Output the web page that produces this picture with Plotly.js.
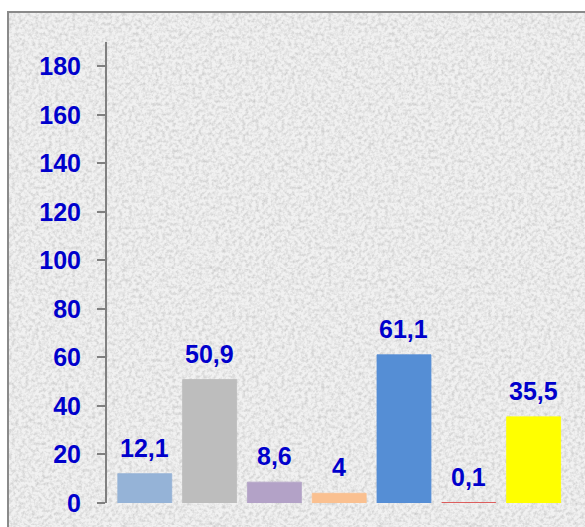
<!DOCTYPE html>
<html>
<head>
<meta charset="utf-8">
<script src="https://cdn.plot.ly/plotly-3.0.1.min.js"></script>
<style>
  html, body { margin: 0; padding: 0; background: #ffffff; }
  #wrap { position: relative; width: 585px; height: 527px; overflow: hidden; background: #ffffff; }
  #frame { position: absolute; left: 7px; top: 11px; width: 600px; height: 600px; border: 2px solid #8a8a8a; background-color: #e8e8e8; }
  #chart { position: absolute; left: 0; top: 0; width: 585px; height: 527px; }
</style>
</head>
<body>
<div id="wrap">
  <div id="frame"></div>
  <div id="chart"></div>
</div>
<script>
// Data
const categories = ['A', 'B', 'C', 'D', 'E', 'F', 'G'];
const values = [12.1, 50.9, 8.6, 4, 61.1, 0.1, 35.5];
const valueLabels = ['12,1', '50,9', '8,6', '4', '61,1', '0,1', '35,5'];
const barColors = ['#95B3D7', '#BDBDBD', '#B3A2C7', '#FAC090', '#558ED5', '#D9403F', '#FFFF00'];
const yTickVals = [0, 20, 40, 60, 80, 100, 120, 140, 160, 180];

// granite-like texture (style only)
const svg = "<svg xmlns='http://www.w3.org/2000/svg' width='256' height='256'>" +
  "<filter id='n'><feTurbulence type='fractalNoise' baseFrequency='0.3' numOctaves='3' stitchTiles='stitch'/>" +
  "<feColorMatrix type='matrix' values='0 0 0 0 0.55  0 0 0 0 0.55  0 0 0 0 0.55  1.6 0 0 0 -0.62'/></filter>" +
  "<rect width='100%' height='100%' fill='#f1f1f1'/>" +
  "<rect width='100%' height='100%' filter='url(#n)'/></svg>";
document.getElementById('frame').style.backgroundImage = 'url("data:image/svg+xml,' + encodeURIComponent(svg) + '")';

const blue = '#0000CC';
const font = 'Liberation Sans, Arial, sans-serif';

const trace = {
  type: 'bar',
  x: categories,
  y: values,
  marker: { color: barColors, line: { color: barColors, width: 0.8 } },
  hoverinfo: 'none'
};

const annotations = categories.map((c, i) => ({
  x: c, y: values[i], xref: 'x', yref: 'y',
  text: valueLabels[i],
  showarrow: false,
  yanchor: 'bottom',
  yshift: 10,
  font: { family: font, size: 25, color: blue, weight: 'bold' }
}));

const layout = {
  width: 585, height: 527,
  margin: { l: 107, r: 19, t: 42, b: 24 },
  paper_bgcolor: 'rgba(0,0,0,0)',
  plot_bgcolor: 'rgba(0,0,0,0)',
  showlegend: false,
  bargap: 0.167,
  xaxis: {
    type: 'category',
    range: [-0.583, 6.5],
    showticklabels: false, showline: false, ticks: '', showgrid: false, zeroline: false
  },
  yaxis: {
    range: [0, 190],
    tickvals: yTickVals,
    ticktext: yTickVals.map(String),
    showline: true, linecolor: '#808080', linewidth: 2,
    ticks: 'outside', ticklen: 8, tickwidth: 2, tickcolor: '#808080',
    ticklabelstandoff: 11,
    showgrid: false, zeroline: false,
    tickfont: { family: font, size: 25, color: blue, weight: 'bold' }
  },
  annotations: annotations
};

Plotly.newPlot('chart', [trace], layout, { displayModeBar: false, staticPlot: true });
</script>
</body>
</html>
